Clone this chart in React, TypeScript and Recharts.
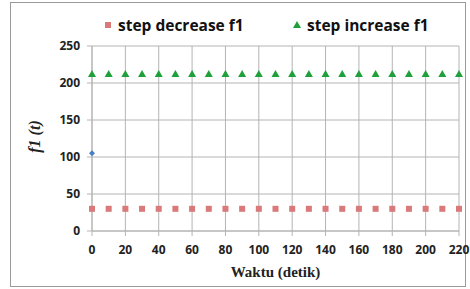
import { ScatterChart, Scatter, XAxis, YAxis, CartesianGrid } from 'recharts'

// time points (detik)
const times = [0, 10, 20, 30, 40, 50, 60, 70, 80, 90, 100, 110, 120, 130, 140, 150, 160, 170, 180, 190, 200, 210, 220]
const stepDecrease = [30, 30, 30, 30, 30, 30, 30, 30, 30, 30, 30, 30, 30, 30, 30, 30, 30, 30, 30, 30, 30, 30, 30]
const stepIncrease = [212, 212, 212, 212, 212, 212, 212, 212, 212, 212, 212, 212, 212, 212, 212, 212, 212, 212, 212, 212, 212, 212, 212]
const initialTime = [0]
const initialValue = [105]

const xTicks = [0, 20, 40, 60, 80, 100, 120, 140, 160, 180, 200, 220]
const yTicks = [0, 50, 100, 150, 200, 250]

const decreaseData = times.map((t, i) => ({ t, f: stepDecrease[i] }))
const increaseData = times.map((t, i) => ({ t, f: stepIncrease[i] }))
const initialData = initialTime.map((t, i) => ({ t, f: initialValue[i] }))

const RED = '#d9797a'
const GREEN = '#1fa03a'
const BLUE = '#4a7ec6'
const GRID = '#b4b4b4'
const tickFont = { fontFamily: 'Open Sans, sans-serif', fontWeight: 700, fontSize: 12, fill: '#222' }

const SquareDot = (p: any) => <rect x={p.cx - 3} y={p.cy - 3} width={6} height={6} fill={RED} />
const TriangleDot = (p: any) => <polygon points={`${p.cx},${p.cy - 4} ${p.cx + 4},${p.cy + 3} ${p.cx - 4},${p.cy + 3}`} fill={GREEN} />
const DiamondDot = (p: any) => <polygon points={`${p.cx},${p.cy - 3} ${p.cx + 3},${p.cy} ${p.cx},${p.cy + 3} ${p.cx - 3},${p.cy}`} fill={BLUE} />

const legendText = { position: 'absolute' as const, top: 14, display: 'flex', alignItems: 'center', fontFamily: 'Open Sans, sans-serif', fontWeight: 700, fontSize: 15.5, color: '#111', whiteSpace: 'nowrap' as const }

function ChartLegend() {
  return (
    <>
      <span style={{ ...legendText, left: 102 }}>
        <svg width={12} height={12} style={{ marginRight: 4 }}>
          <rect x={3} y={3} width={6} height={6} fill={RED} />
        </svg>
        step decrease f1
      </span>
      <span style={{ ...legendText, left: 291 }}>
        <svg width={12} height={12} style={{ marginRight: 4 }}>
          <polygon points="6,2 10,9 2,9" fill={GREEN} />
        </svg>
        step increase f1
      </span>
    </>
  )
}

export default function App() {
  return (
    <div style={{ position: 'absolute', left: 0, top: 0, width: 470, height: 289, background: '#fff' }}>
      <div style={{ position: 'absolute', left: 10, top: 2, width: 456, height: 285, border: '1px solid #9a9a9a', boxSizing: 'border-box' }} />
      <ScatterChart width={470} height={289} margin={{ top: 46, right: 11, bottom: 0, left: 0 }}>
        <CartesianGrid stroke={GRID} horizontalValues={yTicks} verticalValues={xTicks} />
        <XAxis
          type="number"
          dataKey="t"
          domain={[0, 220]}
          ticks={xTicks}
          interval={0}
          height={58}
          tickSize={5}
          tickMargin={9}
          stroke={GRID}
          tick={tickFont}
          label={(props: any) => {
            const vb = props.viewBox
            return (
              <text x={vb.x + vb.width / 2} y={277} textAnchor="middle" fontFamily="Liberation Serif, serif" fontWeight={700} fontSize={15} fill="#222">
                Waktu (detik)
              </text>
            )
          }}
        />
        <YAxis
          type="number"
          dataKey="f"
          domain={[0, 250]}
          ticks={yTicks}
          interval={0}
          width={92}
          tickSize={5}
          tickMargin={7}
          stroke={GRID}
          tick={tickFont}
          label={(props: any) => {
            const vb = props.viewBox
            const cy = vb.y + vb.height / 2 - 2
            return (
              <text x={40} y={cy} transform={`rotate(-90 40 ${cy})`} textAnchor="middle" fontFamily="Liberation Serif, serif" fontWeight={700} fontStyle="italic" fontSize={16} fill="#222">
                f1 (t)
              </text>
            )
          }}
        />
        <Scatter name="step decrease f1" data={decreaseData} fill={RED} shape={SquareDot} isAnimationActive={false} />
        <Scatter name="step increase f1" data={increaseData} fill={GREEN} shape={TriangleDot} isAnimationActive={false} />
        <Scatter name="initial" data={initialData} fill={BLUE} shape={DiamondDot} isAnimationActive={false} />
      </ScatterChart>
      <ChartLegend />
    </div>
  )
}
